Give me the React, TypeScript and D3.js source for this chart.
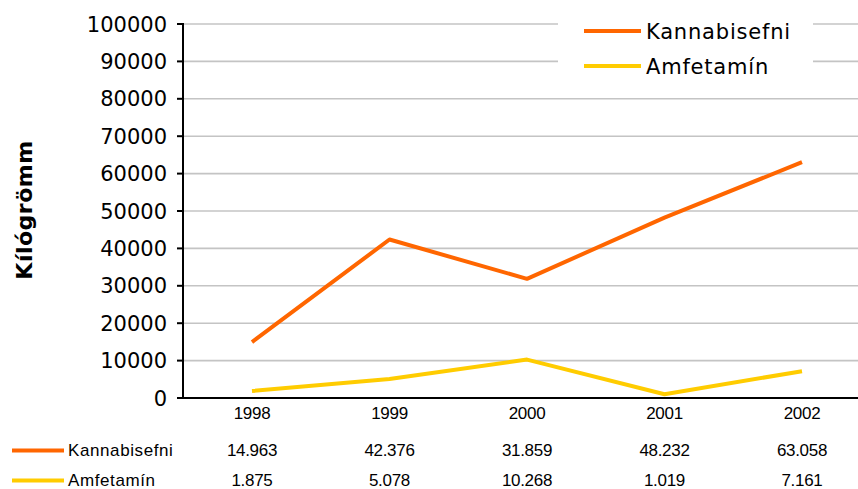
import React from "react";
import * as d3 from "d3";

const years = ["1998", "1999", "2000", "2001", "2002"];
const kannabis = [14963, 42376, 31859, 48232, 63058];
const amfetamin = [1875, 5078, 10268, 1019, 7161];
const kannabisLabels = ["14.963", "42.376", "31.859", "48.232", "63.058"];
const amfetaminLabels = ["1.875", "5.078", "10.268", "1.019", "7.161"];
const yTicks = [0, 10000, 20000, 30000, 40000, 50000, 60000, 70000, 80000, 90000, 100000];
const seriesNames = ["Kannabisefni", "Amfetamín"];
const colors = ["#FF6600", "#FFCC00"];

export default function App() {
  const W = 858, H = 489;
  const x = d3.scaleBand<string>().domain(years).range([183.25, 870.75]);
  const cx = (yr: string) => (x(yr) as number) + x.bandwidth() / 2;
  const y = d3.scaleLinear().domain([0, 100000]).range([398, 24]);
  const line = d3.line<number>().x((_, i) => cx(years[i])).y((d) => y(d));
  const series = [kannabis, amfetamin];
  const tableLabels = [kannabisLabels, amfetaminLabels];
  const rowY = [456, 486];
  const rowLineY = [450.5, 480.5];
  const axisFont = "'DejaVu Sans', Verdana, sans-serif";
  const tableFont = "'Liberation Sans', Arial, sans-serif";

  return (
    <svg width={W} height={H} style={{ position: "absolute", left: 0, top: 0, background: "#fff" }}>
      <rect x={0} y={0} width={W} height={H} fill="#fff" />
      {yTicks.filter((t) => t > 0).map((t) => (
        <line key={t} x1={183} x2={W} y1={y(t)} y2={y(t)} stroke="#C4C4C4" strokeWidth={1.6} />
      ))}
      <rect x={558} y={8} width={255} height={80} fill="#fff" />
      {seriesNames.map((n, i) => (
        <g key={n}>
          <line x1={584} x2={641} y1={31 + i * 35} y2={31 + i * 35} stroke={colors[i]} strokeWidth={4} />
          <text x={646} y={38.5 + i * 35} fontFamily={axisFont} fontSize={21} letterSpacing={0.8} fill="#000">{n}</text>
        </g>
      ))}
      <line x1={183} x2={183} y1={23} y2={399} stroke="#000" strokeWidth={2} />
      <line x1={177} x2={W} y1={398} y2={398} stroke="#000" strokeWidth={2} />
      {yTicks.map((t) => (
        <g key={t}>
          <line x1={177} x2={183} y1={y(t)} y2={y(t)} stroke="#000" strokeWidth={2} />
          <text x={167} y={y(t) + 7.5} textAnchor="end" fontFamily={axisFont} fontSize={21} fill="#000">{t}</text>
        </g>
      ))}
      <text transform="translate(32,210) rotate(-90)" textAnchor="middle" fontFamily={axisFont} fontWeight="bold" fontSize={22} letterSpacing={0.5} fill="#000">Kílógrömm</text>
      {series.map((s, i) => (
        <path key={i} d={line(s) as string} fill="none" stroke={colors[i]} strokeWidth={4} strokeLinejoin="round" />
      ))}
      {years.map((yr) => (
        <text key={yr} x={cx(yr)} y={419} textAnchor="middle" fontFamily={tableFont} fontSize={17} letterSpacing={-0.3} fill="#000">{yr}</text>
      ))}
      {seriesNames.map((n, i) => (
        <g key={n}>
          <line x1={12} x2={64} y1={rowLineY[i]} y2={rowLineY[i]} stroke={colors[i]} strokeWidth={4} />
          <text x={68} y={rowY[i]} fontFamily={tableFont} fontSize={17} letterSpacing={0.6} fill="#000">{n}</text>
          {tableLabels[i].map((lab, j) => (
            <text key={j} x={cx(years[j])} y={rowY[i]} textAnchor="middle" fontFamily={tableFont} fontSize={17} letterSpacing={-0.3} fill="#000">{lab}</text>
          ))}
        </g>
      ))}
    </svg>
  );
}
